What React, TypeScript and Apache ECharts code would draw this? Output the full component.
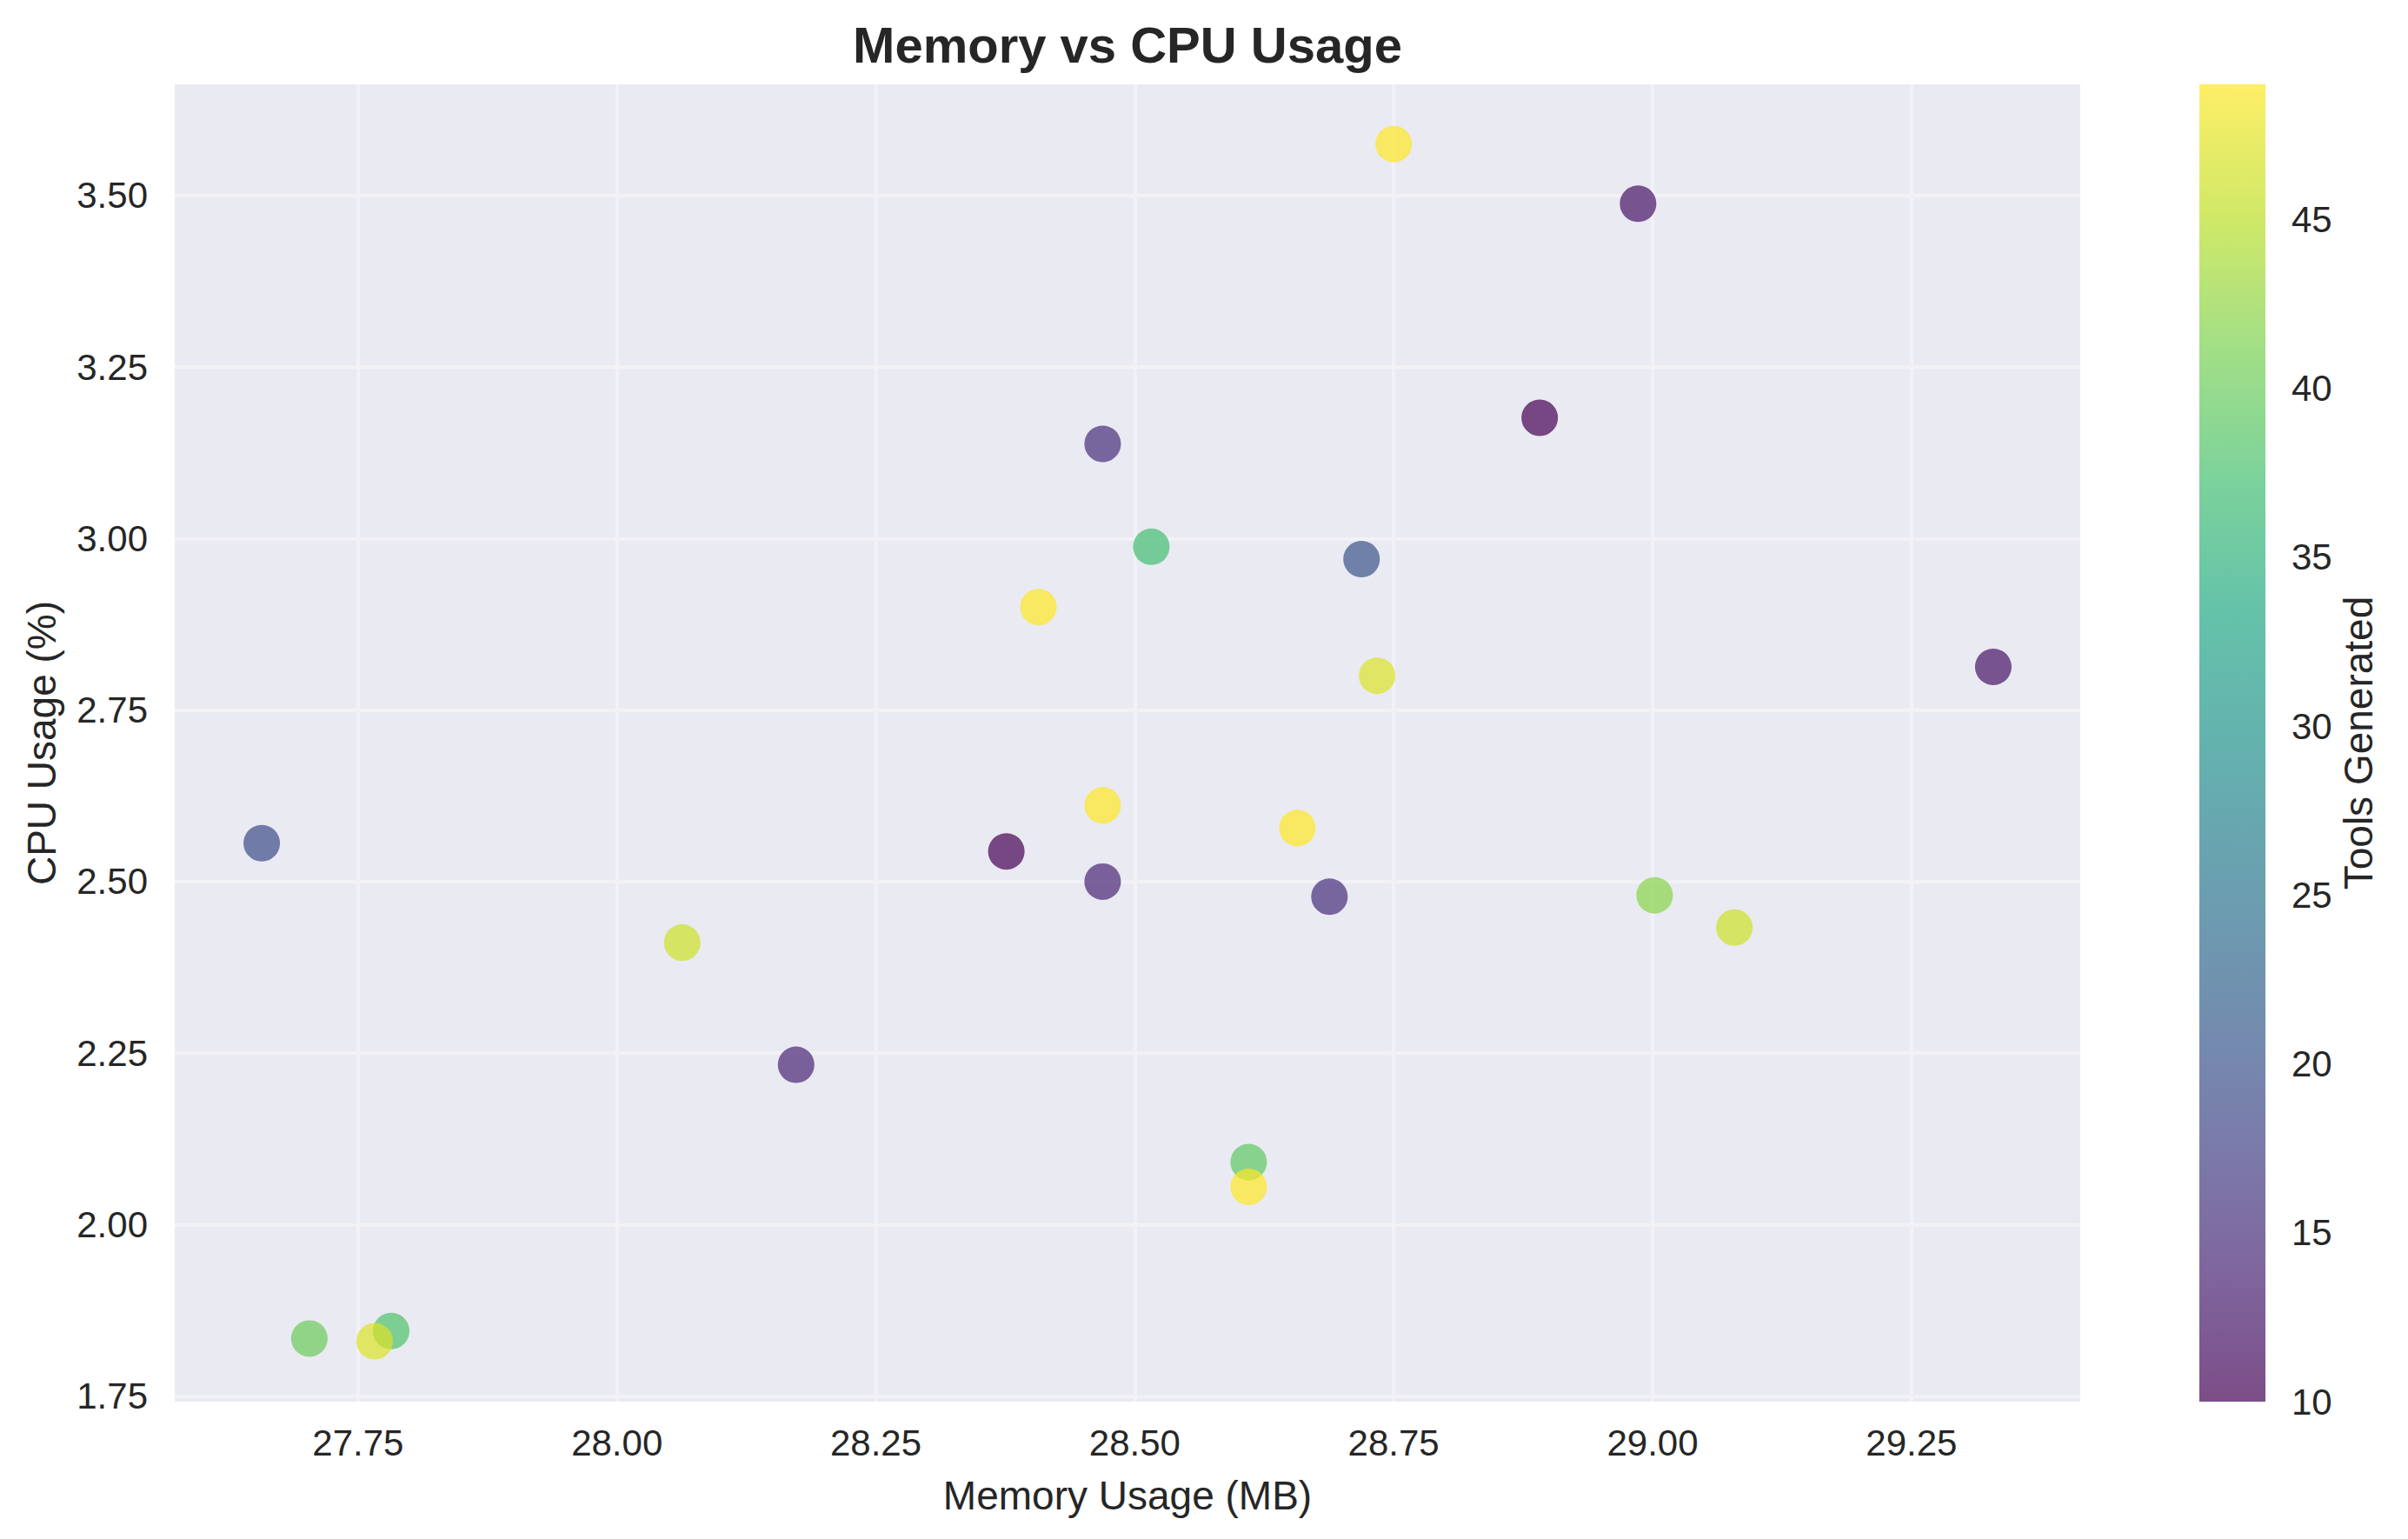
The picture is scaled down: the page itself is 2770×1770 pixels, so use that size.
import React, { useEffect, useRef } from "react";
import * as echarts from "echarts";

const memoryUsage = [
  28.750, 28.986, 28.891, 28.469, 28.516, 28.719, 28.407, 28.734, 29.329, 27.657, 28.469, 28.657,
  28.376, 28.469, 28.688, 29.002, 29.079, 28.063, 28.173, 28.610, 28.610, 27.703, 27.782, 27.766,
];
const cpuUsage = [
  3.575, 3.488, 3.176, 3.138, 2.988, 2.970, 2.900, 2.800, 2.813, 2.556, 2.611, 2.578,
  2.544, 2.500, 2.478, 2.480, 2.433, 2.411, 2.233, 2.091, 2.055, 1.834, 1.845, 1.830,
];
const toolsGenerated = [
  49, 12, 10, 15, 37, 20, 49, 47, 12, 19, 49, 49,
  10, 14, 15, 42, 46, 46, 14, 39, 49, 40, 38, 47,
];

const xTicks = [27.75, 28.0, 28.25, 28.5, 28.75, 29.0, 29.25];
const yTicks = [1.75, 2.0, 2.25, 2.5, 2.75, 3.0, 3.25, 3.5];
const colorbarTicks = [10, 15, 20, 25, 30, 35, 40, 45];

const viridis = [
  "#440154", "#482475", "#414487", "#355f8d", "#2a788e", "#21918c",
  "#22a884", "#44bf70", "#7ad151", "#bddf26", "#fde725",
];

const TEXT = "#262626";
const FONT = "Liberation Sans, Arial, sans-serif";

function hexToRgba(hex: string, a: number) {
  const r = parseInt(hex.slice(1, 3), 16);
  const g = parseInt(hex.slice(3, 5), 16);
  const b = parseInt(hex.slice(5, 7), 16);
  return `rgba(${r},${g},${b},${a})`;
}

export default function App() {
  const ref = useRef<HTMLDivElement>(null);

  useEffect(() => {
    if (!ref.current) return;
    const chart = echarts.init(ref.current, undefined, { renderer: "svg" });

    const data = memoryUsage.map((m, i) => [m, cpuUsage[i], toolsGenerated[i]]);
    const n = viridis.length;
    const colorStops = viridis
      .map((c, i) => ({ offset: 1 - i / (n - 1), color: hexToRgba(c, 0.7) }))
      .reverse();

    const option: any = {
      animation: false,
      backgroundColor: "#ffffff",
      textStyle: { fontFamily: FONT },
      title: {
        text: "Memory vs CPU Usage",
        left: 1297,
        top: 22,
        padding: 0,
        textAlign: "center",
        textStyle: { fontSize: 58, fontWeight: "bold", color: TEXT, fontFamily: FONT },
      },
      grid: [
        {
          left: 201,
          top: 97,
          width: 2192,
          height: 1515,
          show: true,
          backgroundColor: "#eaeaf2",
          borderWidth: 0,
        },
        {
          left: 2530,
          top: 97,
          width: 76,
          height: 1515,
          show: true,
          borderWidth: 0,
          backgroundColor: {
            type: "linear",
            x: 0,
            y: 0,
            x2: 0,
            y2: 1,
            colorStops,
          },
        },
      ],
      xAxis: [
        {
          gridIndex: 0,
          type: "value",
          min: 27.573,
          max: 29.413,
          name: "Memory Usage (MB)",
          nameLocation: "middle",
          nameGap: 85,
          nameTextStyle: { fontSize: 46, color: TEXT, fontFamily: FONT },
          axisLine: { show: false },
          axisTick: { show: false, customValues: xTicks },
          axisLabel: {
            customValues: xTicks,
            formatter: (v: number) => v.toFixed(2),
            fontSize: 42,
            color: TEXT,
            margin: 26,
            fontFamily: FONT,
          },
          splitLine: {
            show: true,
            customValues: xTicks,
            lineStyle: { color: "#f2f2f6", width: 4 },
          },
        },
        {
          gridIndex: 1,
          type: "value",
          show: false,
          min: 0,
          max: 1,
        },
      ],
      yAxis: [
        {
          gridIndex: 0,
          type: "value",
          min: 1.742,
          max: 3.662,
          name: "CPU Usage (%)",
          nameLocation: "middle",
          nameGap: 130,
          nameRotate: 90,
          nameTextStyle: { fontSize: 46, color: TEXT, fontFamily: FONT },
          axisLine: { show: false },
          axisTick: { show: false, customValues: yTicks },
          axisLabel: {
            customValues: yTicks,
            formatter: (v: number) => v.toFixed(2),
            fontSize: 42,
            color: TEXT,
            margin: 31,
            fontFamily: FONT,
          },
          splitLine: {
            show: true,
            customValues: yTicks,
            lineStyle: { color: "#f2f2f6", width: 4 },
          },
        },
        {
          gridIndex: 1,
          type: "value",
          position: "right",
          min: 10,
          max: 49,
          name: "Tools Generated",
          nameLocation: "middle",
          nameGap: 84,
          nameRotate: 90,
          nameTextStyle: { fontSize: 46, color: TEXT, fontFamily: FONT },
          axisLine: { show: false },
          axisTick: { show: false, customValues: colorbarTicks },
          axisLabel: {
            customValues: colorbarTicks,
            fontSize: 42,
            color: TEXT,
            margin: 30,
            fontFamily: FONT,
          },
          splitLine: { show: false },
        },
      ],
      visualMap: {
        type: "continuous",
        show: false,
        dimension: 2,
        min: 10,
        max: 49,
        seriesIndex: 0,
        inRange: { color: viridis },
      },
      series: [
        {
          type: "scatter",
          xAxisIndex: 0,
          yAxisIndex: 0,
          data,
          symbol: "circle",
          symbolSize: 42,
          itemStyle: { opacity: 0.7 },
        },
      ],
    };

    chart.setOption(option);
    return () => chart.dispose();
  }, []);

  return (
    <div
      ref={ref}
      style={{ position: "fixed", left: 0, top: 0, width: 2770, height: 1770 }}
    />
  );
}
